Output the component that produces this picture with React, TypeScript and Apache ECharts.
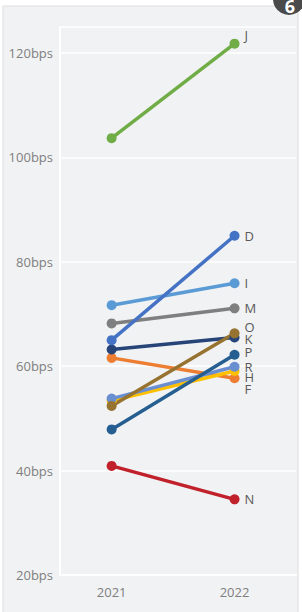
import React, { useEffect, useRef } from "react";
import * as echarts from "echarts";

const years = ["2021", "2022"];
const seriesNames = ["F", "H", "R", "N", "J", "K", "O", "P", "M", "I", "D"];
const values2021 = [61.6, 53.4, 53.8, 40.9, 103.7, 63.2, 52.4, 47.9, 68.2, 71.7, 65.0];
const values2022 = [57.7, 59.1, 59.9, 34.5, 121.8, 65.5, 66.3, 62.2, 71.1, 75.9, 85.0];
const yTicks = [20, 40, 60, 80, 100, 120];

const colors: Record<string, string> = {
  F: "#ed7d31",
  H: "#ffc000",
  R: "#6a8fd1",
  N: "#c0212b",
  J: "#70ad47",
  K: "#264478",
  O: "#967330",
  P: "#255e91",
  M: "#7f7f7f",
  I: "#5b9bd5",
  D: "#4472c4",
};

const labelShift: Record<string, [number, number]> = {
  F: [0, 11],
  H: [0, 6],
  R: [0, 0],
  N: [0, 0],
  J: [0, -9],
  K: [0, 1],
  O: [0, -6],
  P: [0, -3],
  M: [0, 0],
  I: [0, 0],
  D: [0, 0],
};

export default function App() {
  const ref = useRef<HTMLDivElement>(null);
  useEffect(() => {
    if (!ref.current) return;
    const chart = echarts.init(ref.current, undefined, { renderer: "svg" });
    const font = "'Open Sans', 'DejaVu Sans', sans-serif";
    const series = seriesNames.map((name, i) => ({
      type: "line" as const,
      name,
      data: [
        [Number(years[0]), values2021[i]],
        [Number(years[1]), values2022[i]],
      ],
      symbol: "circle",
      symbolSize: 10,
      lineStyle: { width: 3.5, color: colors[name] },
      itemStyle: { color: colors[name] },
      label: {
        show: true,
        formatter: (p: any) => (p.dataIndex === 1 ? name : ""),
        position: "right",
        distance: 5,
        offset: labelShift[name],
        color: "#595959",
        fontSize: 13,
        fontFamily: font,
      },
      emphasis: { disabled: true },
    }));
    chart.setOption({
      animation: false,
      backgroundColor: "#ffffff",
      textStyle: { fontFamily: font },
      graphic: [
        {
          type: "rect",
          shape: { x: 3, y: 6, width: 295, height: 620 },
          style: { fill: "#f1f2f4", stroke: "#dcdde0", lineWidth: 1 },
          z: -10,
          silent: true,
        },
        {
          type: "circle",
          shape: { cx: 289, cy: -1, r: 16 },
          style: { fill: "#4a4a4a" },
          z: 10,
          silent: true,
        },
        {
          type: "text",
          x: 290,
          y: 6,
          style: {
            text: "6",
            fill: "#ffffff",
            font: "bold 18px 'Open Sans', sans-serif",
            align: "center",
            verticalAlign: "middle",
          },
          z: 11,
          silent: true,
        },
      ],
      grid: { left: 60, right: 6, top: 27, bottom: 37, containLabel: false },
      xAxis: {
        type: "value",
        min: 2020.58,
        max: 2022.5,
        axisLine: { show: true, lineStyle: { color: "#ffffff", width: 2 } },
        axisTick: { show: false },
        splitLine: { show: false },
        axisLabel: {
          customValues: years.map(Number),
          formatter: (v: number) => String(v),
          color: "#7f7f7f",
          fontSize: 13,
          margin: 10,
          fontFamily: font,
        },
      },
      yAxis: {
        type: "value",
        min: 20,
        max: 125,
        interval: 20,
        axisLine: { show: true, lineStyle: { color: "#ffffff", width: 2 } },
        axisTick: { show: false },
        splitLine: { show: true, lineStyle: { color: "#ffffff", width: 1.5 } },
        axisLabel: {
          customValues: yTicks,
          formatter: (v: number) => `${v}bps`,
          color: "#7f7f7f",
          fontSize: 13,
          margin: 7,
          fontFamily: font,
        },
      },
      series,
    });
    return () => chart.dispose();
  }, []);
  return (
    <div
      ref={ref}
      style={{ position: "absolute", left: 0, top: 0, width: 302, height: 612 }}
    />
  );
}
